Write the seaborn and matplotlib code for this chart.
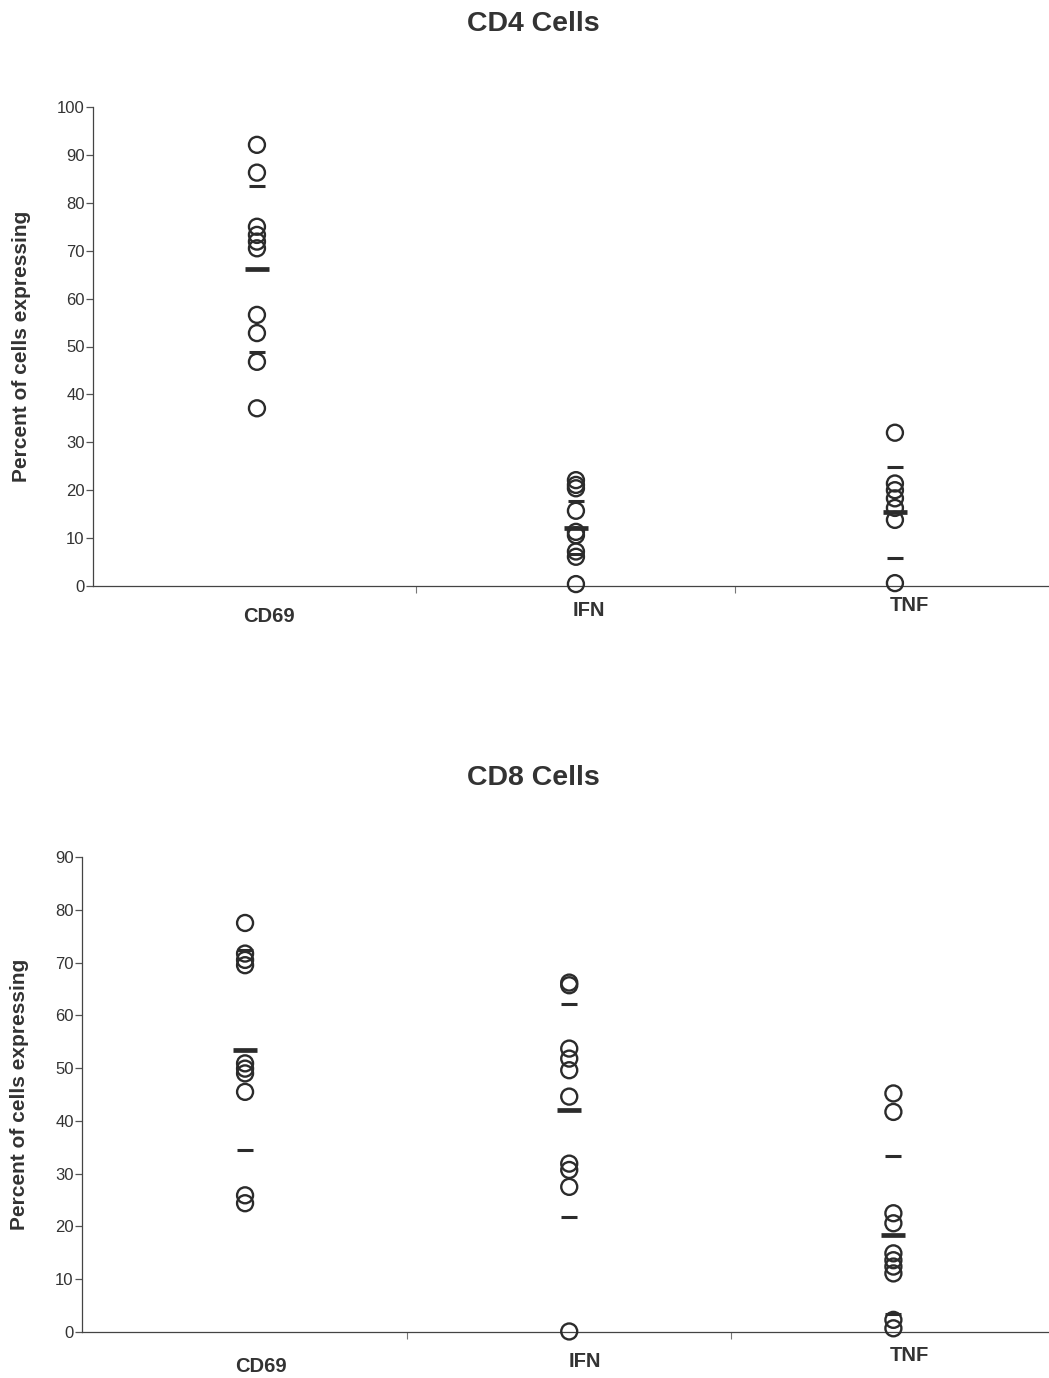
import numpy as np
import pandas as pd
import matplotlib
matplotlib.use("Agg")
import matplotlib.pyplot as plt
from matplotlib.transforms import ScaledTranslation
import seaborn as sns

# ---------------- data ----------------
categories = ["CD69", "IFN", "TNF"]

cd4_cd69 = [92.1, 86.3, 75.0, 73.3, 71.9, 70.5, 56.6, 52.8, 46.8, 37.1]
cd4_ifn = [22.1, 21.1, 20.4, 15.7, 11.3, 10.6, 7.2, 6.1, 0.4]
cd4_tnf = [32.0, 21.4, 20.0, 18.3, 16.3, 13.8, 0.6]
cd4_mean = [66.2, 12.2, 15.4]
cd4_sd = [17.4, 5.5, 9.5]

cd8_cd69 = [77.5, 71.7, 70.5, 69.5, 50.9, 49.9, 49.0, 45.5, 25.9, 24.4]
cd8_ifn = [66.2, 65.7, 53.7, 51.8, 49.6, 44.6, 31.9, 30.7, 27.5, 0.1]
cd8_tnf = [45.2, 41.7, 22.5, 20.6, 14.9, 13.6, 12.4, 11.1, 2.3, 0.7]
cd8_mean = [53.4, 42.0, 18.4]
cd8_sd = [18.9, 20.2, 14.9]

titles = ["CD4 Cells", "CD8 Cells"]
ylabel = "Percent of cells expressing"
cd4_yticks = list(range(0, 101, 10))
cd8_yticks = list(range(0, 91, 10))

# ---------------- style ----------------
sns.set_theme(style="ticks")
plt.rcParams["font.family"] = ["Liberation Sans", "DejaVu Sans"]
INK = "#2b2b2b"
TXT = "#333333"

fig = plt.figure(figsize=(10.49, 13.78), dpi=100)
fig.patch.set_facecolor("white")


def long_df(a, b, c):
    rows = []
    for cat, vals in zip(categories, [a, b, c]):
        for v in vals:
            rows.append({"marker": cat, "value": v})
    return pd.DataFrame(rows)


def panel(rect, a, b, c, means, sds, yticks, xlim, label_offsets, ylab_x):
    ax = fig.add_axes(rect)
    df = long_df(a, b, c)
    sns.stripplot(data=df, x="marker", y="value", order=categories,
                  jitter=False, marker="o", size=11.5, ax=ax, color=INK)
    for coll in ax.collections:
        coll.set_facecolor("none")
        coll.set_edgecolor(INK)
        coll.set_linewidth(1.7)
        coll.set_clip_on(False)
    pos = np.arange(len(categories))
    m = np.array(means)
    s = np.array(sds)
    ax.plot(pos, m, ls="none", marker="_", ms=17, mew=3.4, color=INK, clip_on=False)
    ax.plot(pos, m + s, ls="none", marker="_", ms=11, mew=2.2, color=INK, clip_on=False)
    ax.plot(pos, m - s, ls="none", marker="_", ms=11, mew=2.2, color=INK, clip_on=False)

    ax.set_xlim(*xlim)
    ax.set_ylim(0, yticks[-1])
    ax.set_yticks(yticks)
    ax.set_yticklabels([str(t) for t in yticks], fontsize=12, color=TXT)
    ax.tick_params(axis="y", length=5, width=0.9, pad=1, color="#555555")
    # category separators as major ticks, names as minor tick labels
    ax.set_xticks([0.5, 1.5])
    ax.set_xticklabels(["", ""])
    ax.tick_params(axis="x", which="major", length=5, width=0.8, color="#777777")
    ax.set_xticks(pos, minor=True)
    ax.set_xticklabels(categories, minor=True, fontsize=14.5,
                       fontweight="bold", color=TXT)
    ax.tick_params(axis="x", which="minor", length=0, pad=0)
    for lab, (dx, dy) in zip(ax.get_xticklabels(minor=True), label_offsets):
        lab.set_transform(lab.get_transform() +
                          ScaledTranslation(dx / 100, -dy / 100, fig.dpi_scale_trans))
    ax.set_xlabel("")
    ax.set_ylabel("")
    fig.text(ylab_x, rect[1] + rect[3] / 2, ylabel, rotation=90, ha="center",
             va="center", fontsize=15, fontweight="bold", color=TXT)
    for side in ["top", "right"]:
        ax.spines[side].set_visible(False)
    for side in ["left", "bottom"]:
        ax.spines[side].set_color("#444444")
        ax.spines[side].set_linewidth(0.9)
    ax.set_facecolor("white")
    return ax


W, H = 1049, 1378
# top panel: x axis 93..1049 px, y 107..586 px
panel([93 / W, 1 - 586 / H, (1049 - 93) / W, (586 - 107) / H],
      cd4_cd69, cd4_ifn, cd4_tnf, cd4_mean, cd4_sd, cd4_yticks,
      (-0.514, 2.483), [(12, 21), (13, 15), (14, 10)], 22 / W)
# bottom panel: x axis 82..1049 px, y 857..1332 px
panel([82 / W, 1 - 1332 / H, (1049 - 82) / W, (1332 - 857) / H],
      cd8_cd69, cd8_ifn, cd8_tnf, cd8_mean, cd8_sd, cd8_yticks,
      (-0.503, 2.48), [(16, 25), (16, 20), (16, 14)], 20 / W)

fig.text(533 / W, 1 - 24 / H, titles[0], ha="center", va="center",
         fontsize=20.5, fontweight="bold", color=TXT)
fig.text(533 / W, 1 - 778 / H, titles[1], ha="center", va="center",
         fontsize=20.5, fontweight="bold", color=TXT)

fig.savefig("out.png", dpi=100, facecolor="white")
